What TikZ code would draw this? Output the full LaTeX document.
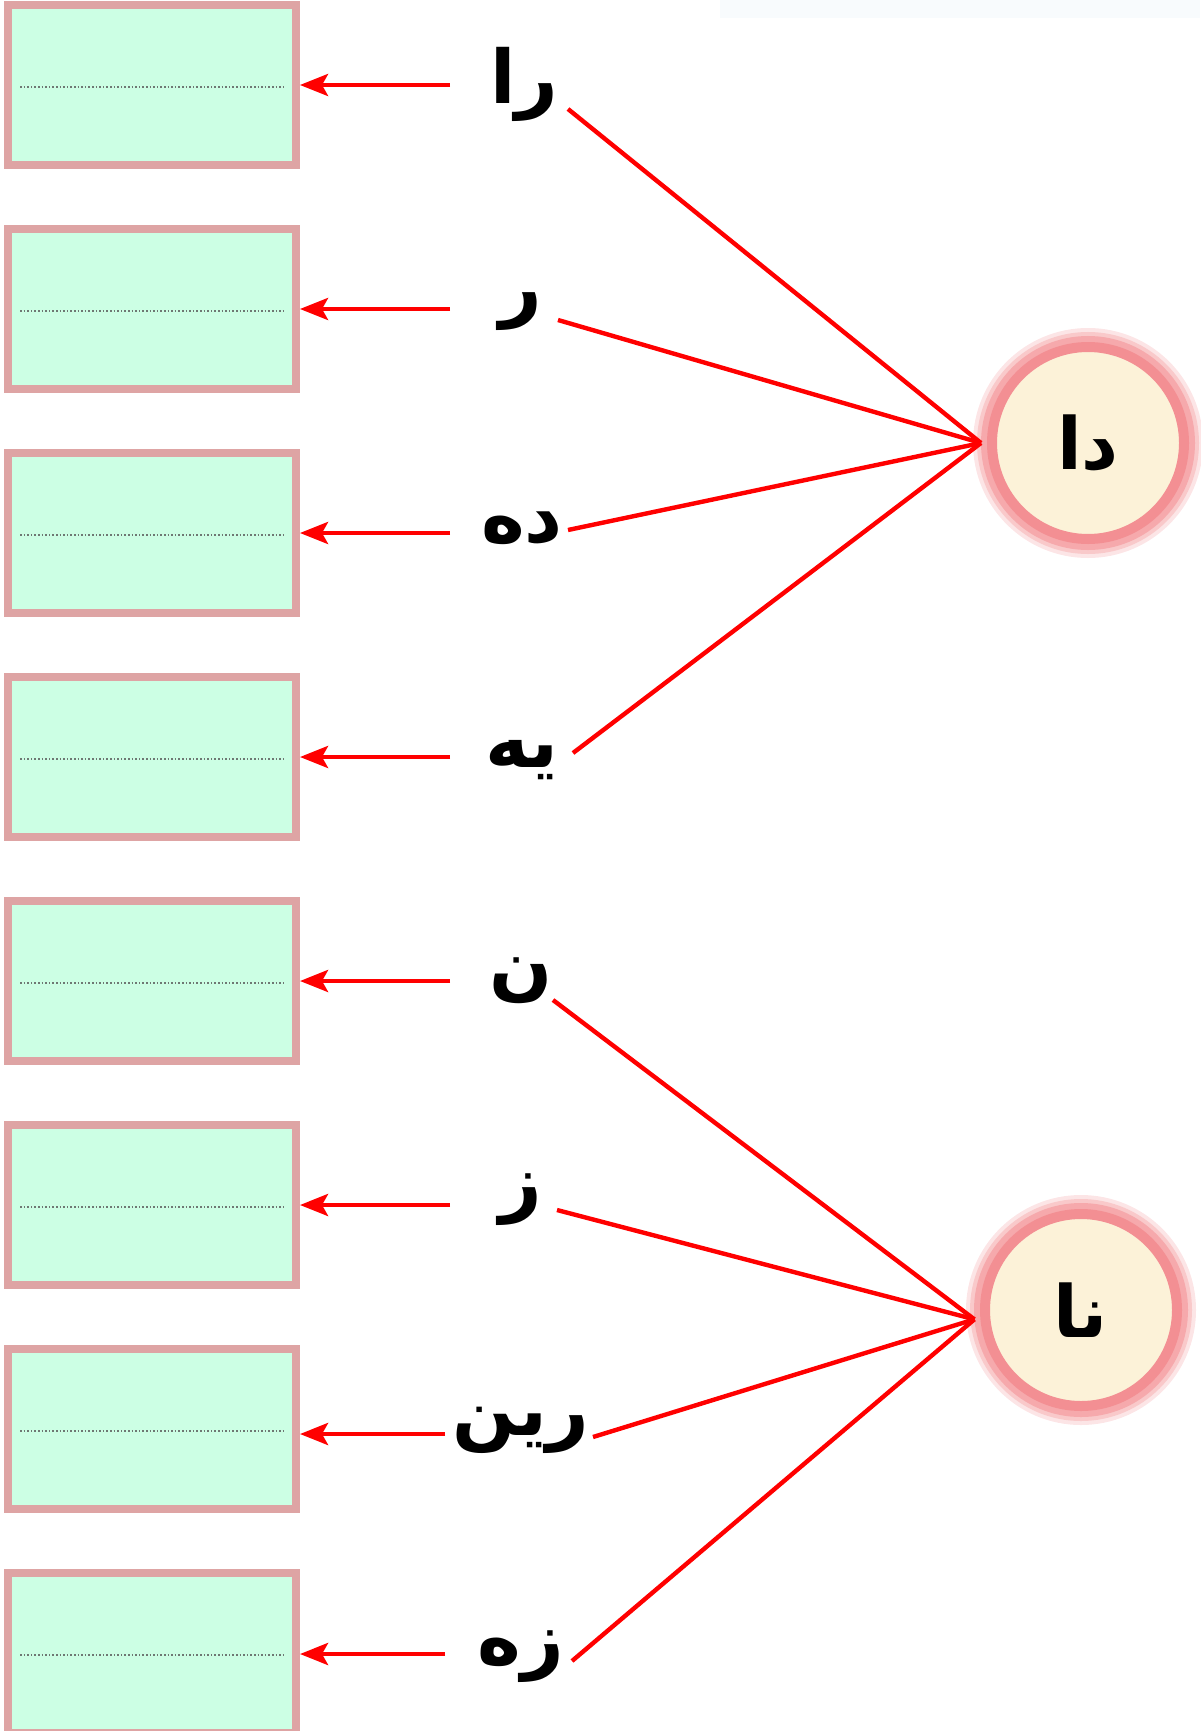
\documentclass[tikz,border=0pt]{standalone}
\usepackage{fontspec}
\newfontfamily\arabicfont[Script=Arabic]{DejaVu Sans}
\TeXXeTstate=1
\usetikzlibrary{arrows.meta}

\definecolor{boxgreen}{RGB}{204,255,228}
\definecolor{boxrose}{RGB}{222,164,164}
\definecolor{discglow}{RGB}{240,112,116}
\definecolor{disccream}{RGB}{252,242,216}
\definecolor{dotgray}{RGB}{110,120,115}
\definecolor{topband}{RGB}{248,251,253}

\newcommand{\fa}[1]{{\arabicfont\bfseries\beginR #1\endR}}

\tikzset{
  answerbox/.style={rectangle, draw=boxrose, fill=boxgreen, line width=8pt,
    minimum width=288pt, minimum height=160pt, inner sep=0pt},
  writeline/.style={draw=dotgray, line width=1.6pt, dash pattern=on 1.6pt off 2pt},
  pointer/.style={draw=red, line width=4.5pt, -{Stealth[length=28pt,width=22pt,inset=6pt]}},
  link/.style={draw=red, line width=4.4pt},
  syllable/.style={inner sep=0pt, font=\fontsize{74}{80}\selectfont},
  letterdisc/.style={circle, minimum size=192pt, inner sep=0pt, outer sep=11pt,
    fill=disccream, draw=discglow!78, line width=10pt,
    preaction={draw=discglow!18, line width=38pt},
    preaction={draw=discglow!38, line width=30pt},
    preaction={draw=discglow!60, line width=22pt},
    font=\fontsize{72}{80}\selectfont}
}

\begin{document}
\begin{tikzpicture}[x=1pt, y=-1pt]
        \useasboundingbox (0,0) rectangle (1200,1731);
        \fill[topband] (720,0) rectangle (1200,18);

        % Answer boxes (top to bottom)
        \node (box1) at (152,85) [answerbox] {};
        \node (box2) at (152,309) [answerbox] {};
        \node (box3) at (152,533) [answerbox] {};
        \node (box4) at (152,757) [answerbox] {};
        \node (box5) at (152,981) [answerbox] {};
        \node (box6) at (152,1205) [answerbox] {};
        \node (box7) at (152,1429) [answerbox] {};
        \node (box8) at (152,1653) [answerbox] {};

        % Writing lines
        \draw[writeline] ([shift={(16,2)}]box1.west) -- ([shift={(-15,2)}]box1.east);
        \draw[writeline] ([shift={(16,2)}]box2.west) -- ([shift={(-15,2)}]box2.east);
        \draw[writeline] ([shift={(16,2)}]box3.west) -- ([shift={(-15,2)}]box3.east);
        \draw[writeline] ([shift={(16,2)}]box4.west) -- ([shift={(-15,2)}]box4.east);
        \draw[writeline] ([shift={(16,2)}]box5.west) -- ([shift={(-15,2)}]box5.east);
        \draw[writeline] ([shift={(16,2)}]box6.west) -- ([shift={(-15,2)}]box6.east);
        \draw[writeline] ([shift={(16,2)}]box7.west) -- ([shift={(-15,2)}]box7.east);
        \draw[writeline] ([shift={(16,2)}]box8.west) -- ([shift={(-15,2)}]box8.east);

        % Syllables
        \node (ra) at (524,84) [syllable] {\fa{را}};
        \node (r) at (521,312) [syllable] {\fa{ر}};
        \node (deh) at (522,528) [syllable] {\fa{ده}};
        \node (yeh) at (522,760) [syllable] {\fa{یه}};
        \node (n) at (521,981) [syllable] {\fa{ن}};
        \node (z) at (521,1200) [syllable] {\fa{ز}};
        \node (rin) at (521,1430) [syllable] {\fa{رین}};
        \node (zeh) at (521,1657) [syllable] {\fa{زه}};

        % Stems
        \node (dal) at (1088,443) [letterdisc] {\fa{دا}};
        \node (na) at (1081,1310) [letterdisc] {\fa{نا}};

        % Arrows (syllables to boxes)
        \coordinate (tail1) at (450,85);
        \coordinate (tail2) at (450,309);
        \coordinate (tail3) at (450,533);
        \coordinate (tail4) at (450,757);
        \coordinate (tail5) at (450,981);
        \coordinate (tail6) at (450,1205);
        \coordinate (tail7) at (445,1434);
        \coordinate (tail8) at (445,1654);
        \draw[pointer] (tail1) -- (tail1 -| box1.east);
        \draw[pointer] (tail2) -- (tail2 -| box2.east);
        \draw[pointer] (tail3) -- (tail3 -| box3.east);
        \draw[pointer] (tail4) -- (tail4 -| box4.east);
        \draw[pointer] (tail5) -- (tail5 -| box5.east);
        \draw[pointer] (tail6) -- (tail6 -| box6.east);
        \draw[pointer] (tail7) -- (tail7 -| box7.east);
        \draw[pointer] (tail8) -- (tail8 -| box8.east);

        % Links (syllables to the first stem)
        \coordinate (ra-end) at (568,109);
        \coordinate (r-end) at (558,320);
        \coordinate (deh-end) at (568,530);
        \coordinate (yeh-end) at (573,753);
        \draw[link] (ra-end) -- (dal.west);
        \draw[link] (r-end) -- (dal.west);
        \draw[link] (deh-end) -- (dal.west);
        \draw[link] (yeh-end) -- (dal.west);

        % Links (syllables to the second stem)
        \coordinate (n-end) at (553,1000);
        \coordinate (z-end) at (557,1210);
        \coordinate (rin-end) at (593,1437);
        \coordinate (zeh-end) at (572,1661);
        \draw[link] (n-end) -- (na.185);
        \draw[link] (z-end) -- (na.185);
        \draw[link] (rin-end) -- (na.185);
        \draw[link] (zeh-end) -- (na.185);
      \end{tikzpicture}
\end{document}
